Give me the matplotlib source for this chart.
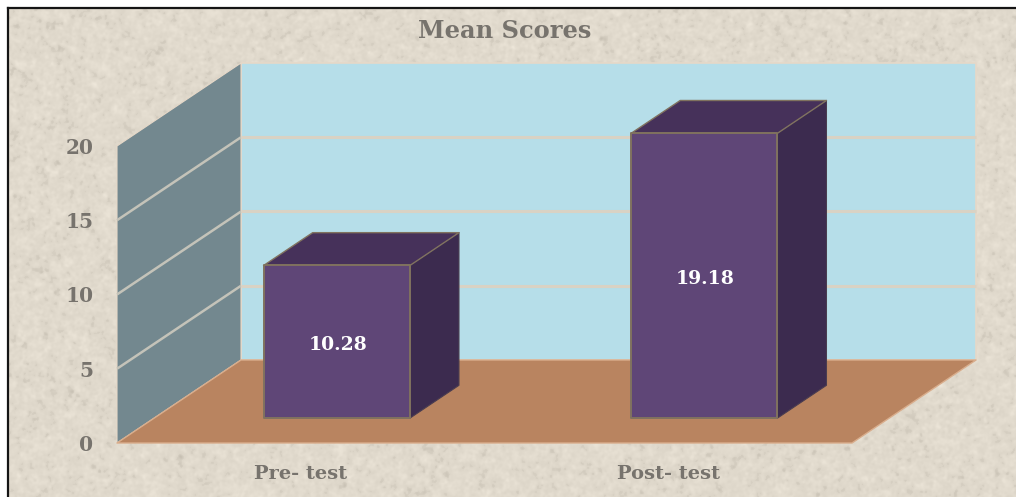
import numpy as np
import matplotlib
matplotlib.use('Agg')
import matplotlib.pyplot as plt
from matplotlib.patches import Polygon

categories = ['Pre- test', 'Post- test']
scores = [10.28, 19.18]
y_ticks = [0, 5, 10, 15, 20]
title = 'Mean Scores'

W, H = 1016, 497
TEXT = '#77736d'
FONT = ['DejaVu Serif']

# front plane of the fake 3d box, in pixels of the picture
LEFT, RIGHT, TOP, BOTTOM = 117, 852, 146, 443
# how far the back of the box is pushed, per unit of depth
DEPTH_X = 124 / ((RIGHT - LEFT) / 2)
DEPTH_Y = 83 / ((BOTTOM - TOP) / 20)


def project(x, y, depth=0.):
    return x + depth * DEPTH_X, y + depth * DEPTH_Y


def face(ax, points, color, edge='none', lw=0., z=1):
    pts = [project(*p) for p in points]
    ax.add_patch(Polygon(pts, closed=True, facecolor=color, edgecolor=edge, linewidth=lw,
                         clip_on=False, zorder=z, joinstyle='round'))


def paper_texture(w, h):
    # only the speckled paper behind the chart, no data in here
    rng = np.random.default_rng(4)
    fine = rng.normal(size=(h, w))
    f = np.fft.fftfreq(h)[:, None] ** 2 + np.fft.fftfreq(w)[None, :] ** 2
    soft = np.fft.ifft2(np.fft.fft2(fine) * np.exp(-f * 25)).real
    wide = np.fft.ifft2(np.fft.fft2(fine) * np.exp(-f * 160)).real
    noise = soft / soft.std() * 2.2 + wide / wide.std() * 1.2
    noise = np.where(noise < -5, noise * 1.8, noise)
    base = np.array([225, 218, 205])
    img = base[None, None, :] + noise[:, :, None]
    return np.clip(img, 0, 255).astype(np.uint8)


fig = plt.figure(figsize=(W / 100, H / 100), dpi=100, facecolor='white')

# paper, with the black frame on its left and top
bg = fig.add_axes([8 / W, 0, (W - 8) / W, (H - 8) / H])
bg.imshow(paper_texture(W - 8, H - 8), aspect='auto', interpolation='bilinear')
bg.set_xticks([])
bg.set_yticks([])
for side in ['right', 'bottom']:
    bg.spines[side].set_visible(False)
for side in ['left', 'top']:
    bg.spines[side].set_color('#151515')
    bg.spines[side].set_linewidth(1.6)

ax = fig.add_axes([LEFT / W, 1 - BOTTOM / H, (RIGHT - LEFT) / W, (BOTTOM - TOP) / H])
ax.patch.set_alpha(0)
x0, x1 = -0.5, len(categories) - 0.5
y0, y1 = y_ticks[0], y_ticks[-1]
ax.set_xlim(x0, x1)
ax.set_ylim(y0, y1)

# walls and floor
face(ax, [(x0, y0, 1), (x1, y0, 1), (x1, y1, 1), (x0, y1, 1)], '#b6deE9', '#e6d8c8', 1.2)
face(ax, [(x0, y0, 0), (x0, y0, 1), (x0, y1, 1), (x0, y1, 0)], '#73888f', '#e6d8c8', 0.8)
face(ax, [(x0, y0, 0), (x1, y0, 0), (x1, y0, 1), (x0, y0, 1)], '#b98460', '#d9ad8c', 1.0, z=2)

# grid lines go along the side wall and then along the back wall
for v in y_ticks[1:-1]:
    xs, ys = zip(*[project(x0, v, 0), project(x0, v, 1)])
    ax.plot(xs, ys, color='#c4c3b9', lw=1.8, clip_on=False, zorder=1.5, solid_capstyle='butt')
    xs, ys = zip(*[project(x0, v, 1), project(x1, v, 1)])
    ax.plot(xs, ys, color='#d9d2c4', lw=2.2, clip_on=False, zorder=1.5, solid_capstyle='butt')

# bars
BAR_W = 0.398
BAR_SHIFT = -0.003
D0, D1 = 0.3, 0.695
EDGE = '#80725f'
for i, v in enumerate(scores):
    a, b = i + BAR_SHIFT - BAR_W / 2, i + BAR_SHIFT + BAR_W / 2
    face(ax, [(b, y0, D0), (b, y0, D1), (b, v, D1), (b, v, D0)], '#3c2b4f', z=3)
    face(ax, [(a, v, D0), (b, v, D0), (b, v, D1), (a, v, D1)], '#46315a', z=3)
    face(ax, [(a, y0, D0), (b, y0, D0), (b, v, D0), (a, v, D0)], '#5f4677', EDGE, 1.4, z=4)
    xs, ys = zip(*[project(a, v, D0), project(a, v, D1), project(b, v, D1), project(b, v, D0)])
    ax.plot(xs, ys, color=EDGE, lw=1.0, clip_on=False, zorder=4)
    xs, ys = zip(*[project(b, y0, D0), project(b, y0, D1), project(b, v, D1)])
    ax.plot(xs, ys, color='#4a3d50', lw=0.8, clip_on=False, zorder=3.5)
    tx, ty = project(i, v / 2, D0)
    ty -= 0.2
    ax.text(tx, ty, f'{v:.2f}', color='white', ha='center', va='center', fontsize=13.5,
            fontweight='bold', family=FONT, zorder=5)

ax.set_xticks(range(len(categories)))
ax.set_xticklabels(categories)
ax.set_yticks(y_ticks)
ax.tick_params(length=0, labelcolor=TEXT)
ax.tick_params(axis='y', pad=17)
ax.tick_params(axis='x', pad=16)
for lab in ax.get_xticklabels():
    lab.set_family(FONT)
    lab.set_fontweight('bold')
    lab.set_fontsize(14)
for lab in ax.get_yticklabels():
    lab.set_family(FONT)
    lab.set_fontweight('bold')
    lab.set_fontsize(14.5)
for s in ax.spines.values():
    s.set_visible(False)

fig.text(505 / W, 1 - 31 / H, title, color=TEXT, ha='center', va='center', fontsize=17.4,
         fontweight='bold', family=FONT)

fig.savefig('out.png', dpi=100)
